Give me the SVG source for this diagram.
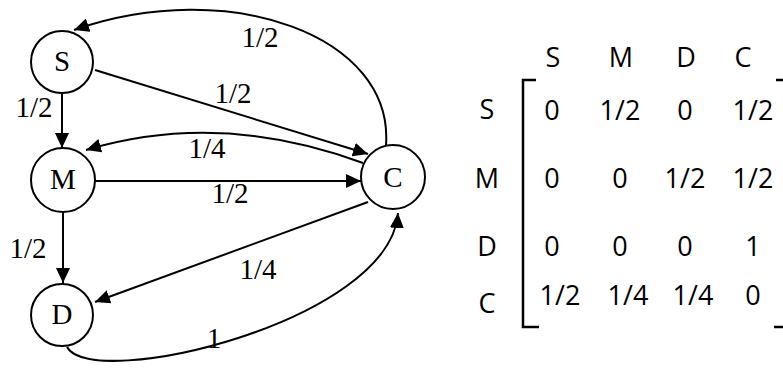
<svg xmlns="http://www.w3.org/2000/svg" width="783" height="368" viewBox="0 0 783 368">
<defs>
<marker id="arr" markerUnits="userSpaceOnUse" markerWidth="16" markerHeight="14" refX="15" refY="7" orient="auto">
<path d="M0,0 L15,7 L0,14 Z" fill="#000"/>
</marker>
<style>
.node circle{fill:#fff;stroke:#000;stroke-width:2}
.node text{font-family:"Liberation Serif",serif;font-size:29px;text-anchor:middle;fill:#000}
.edges path{fill:none;stroke:#000;stroke-width:2}
.arrow{marker-end:url(#arr)}
.lbl{font-family:"Liberation Serif",serif;font-size:29px;text-anchor:middle;fill:#000}
.mx{font-family:"Open Sans","Noto Sans",sans-serif;font-size:27px;text-anchor:middle;fill:#000}
.br{fill:none;stroke:#000;stroke-width:2.5}
</style>
</defs>
<rect width="783" height="368" fill="#fff"/>
<g id="connectors" class="edges">
<path class="arrow" d="M62,93 L62,148"/>
<path class="arrow" d="M63,212 L63,283"/>
<path class="arrow" d="M95,181 L361,181"/>
<path class="arrow" d="M95,70 L368,154"/>
<path class="arrow" d="M363,163 Q220,110 86,150"/>
<path class="arrow" d="M386,145 C394,36 230,-24 74,30"/>
<path class="arrow" d="M368,202 L95,302"/>
<path class="arrow" d="M67,347 C92,392 390,322 398,213"/>
</g>
<g id="node-S" class="node"><circle cx="62" cy="62" r="31"/><text x="62" y="71">S</text></g>
<g id="node-M" class="node"><circle cx="63" cy="180" r="32"/><text x="63" y="189">M</text></g>
<g id="node-D" class="node"><circle cx="62" cy="315" r="31"/><text x="62" y="324">D</text></g>
<g id="node-C" class="node"><circle cx="393" cy="177" r="32"/><text x="393" y="187">C</text></g>
<g id="edge-labels">
<text class="lbl" x="260" y="47">1/2</text>
<text class="lbl" x="233" y="103">1/2</text>
<text class="lbl" x="34" y="117">1/2</text>
<text class="lbl" x="207" y="158">1/4</text>
<text class="lbl" x="230" y="203">1/2</text>
<text class="lbl" x="28" y="258">1/2</text>
<text class="lbl" x="258" y="279">1/4</text>
<text class="lbl" x="214" y="348">1</text>
</g>
<g id="matrix">
<text class="mx" x="553" y="67">S</text>
<text class="mx" x="621" y="67">M</text>
<text class="mx" x="686" y="67">D</text>
<text class="mx" x="743" y="67">C</text>
<text class="mx" x="487" y="119">S</text>
<text class="mx" x="487" y="188">M</text>
<text class="mx" x="487" y="256">D</text>
<text class="mx" x="487" y="313">C</text>
<text class="mx" x="552" y="120">0</text>
<text class="mx" x="620" y="120">1/2</text>
<text class="mx" x="685" y="120">0</text>
<text class="mx" x="753" y="120">1/2</text>
<text class="mx" x="552" y="188">0</text>
<text class="mx" x="620" y="188">0</text>
<text class="mx" x="685" y="188">1/2</text>
<text class="mx" x="753" y="188">1/2</text>
<text class="mx" x="552" y="256">0</text>
<text class="mx" x="620" y="256">0</text>
<text class="mx" x="685" y="256">0</text>
<text class="mx" x="753" y="256">1</text>
<text class="mx" x="560" y="305">1/2</text>
<text class="mx" x="628" y="305">1/4</text>
<text class="mx" x="693" y="305">1/4</text>
<text class="mx" x="753" y="305">0</text>
<path class="br" d="M536,80 L523,80 L523,327 L539,327"/>
<path class="br" d="M776,80 L784,80 M774,327 L784,327"/>
</g>
</svg>
